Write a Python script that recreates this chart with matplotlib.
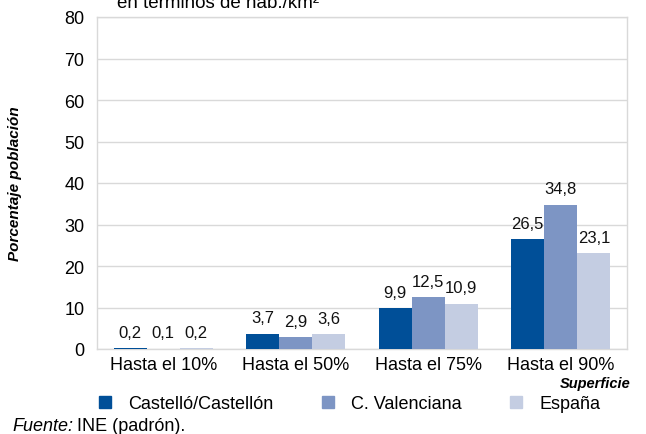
import matplotlib
matplotlib.use("Agg")
import matplotlib.pyplot as plt
import numpy as np

categories = ["Hasta el 10%", "Hasta el 50%", "Hasta el 75%", "Hasta el 90%"]
series_names = ["Castelló/Castellón", "C. Valenciana", "España"]
castellon = [0.2, 3.7, 9.9, 26.5]
cvalenciana = [0.1, 2.9, 12.5, 34.8]
espana = [0.2, 3.6, 10.9, 23.1]
yticks = [0, 10, 20, 30, 40, 50, 60, 70, 80]

colors = ["#004f98", "#7d95c4", "#c4cde2"]

plt.rcParams['font.family'] = ['Liberation Sans', 'DejaVu Sans']

fig = plt.figure(figsize=(6.46, 4.35), dpi=100)
W, H = 646, 435
ax = fig.add_axes([97 / W, 1 - 350 / H, (627 - 97) / W, (350 - 18) / H])

x = np.arange(len(categories))
bw = 0.25
all_series = [castellon, cvalenciana, espana]
for i, (vals, name, c) in enumerate(zip(all_series, series_names, colors)):
    pos = x + (i - 1) * bw
    ax.bar(pos, vals, width=bw, color=c, label=name, zorder=3)
    for p, v in zip(pos, vals):
        ax.text(p, v + 2.0, f"{v:.1f}".replace(".", ","), ha="center", va="bottom",
                fontsize=12, color="#111111")

ax.set_xlim(-0.5, len(categories) - 0.5)
ax.set_ylim(0, 80)
ax.set_yticks(yticks)
ax.set_yticklabels([str(t) for t in yticks], fontsize=13)
ax.set_xticks(x)
ax.set_xticklabels(categories, fontsize=13)
ax.tick_params(axis="both", length=0, pad=5)
ax.tick_params(axis="y", pad=9)
ax.grid(axis="y", color="#d9d9d9", linewidth=1, zorder=0)
for s in ax.spines.values():
    s.set_color("#d9d9d9")
    s.set_linewidth(1)

ax.set_ylabel("Porcentaje población", fontsize=11, fontweight="bold", style="italic")
ax.yaxis.set_label_coords((22 - 97) / (627 - 97), 0.5)

fig.text(631 / W, 1 - 384 / H, "Superficie", ha="right", va="center",
         fontsize=10.5, fontweight="bold", style="italic")

handles = [plt.Line2D([], [], marker="s", linestyle="", markersize=9,
                      markerfacecolor=c, markeredgecolor=c) for c in colors]
fig.legend(handles, series_names, loc="center left", bbox_to_anchor=(96 / W, 1 - 405 / H),
           ncol=3, frameon=False, fontsize=13, handletextpad=0.8, columnspacing=2.5,
           borderaxespad=0, borderpad=0, handlelength=1.0)

t1 = fig.text(12 / W, 1 - 427 / H, "Fuente:", ha="left", va="center", fontsize=13, style="italic")
fig.canvas.draw()
bb = t1.get_window_extent()
fig.text((bb.x1 + 4) / W, 1 - 427 / H, "INE (padrón).", ha="left", va="center", fontsize=13)

fig.text(218 / W, 1 - 8 / H, "en términos de hab./km²", ha="center", va="baseline",
         fontsize=13.5)

fig.savefig("out.png", dpi=100)
